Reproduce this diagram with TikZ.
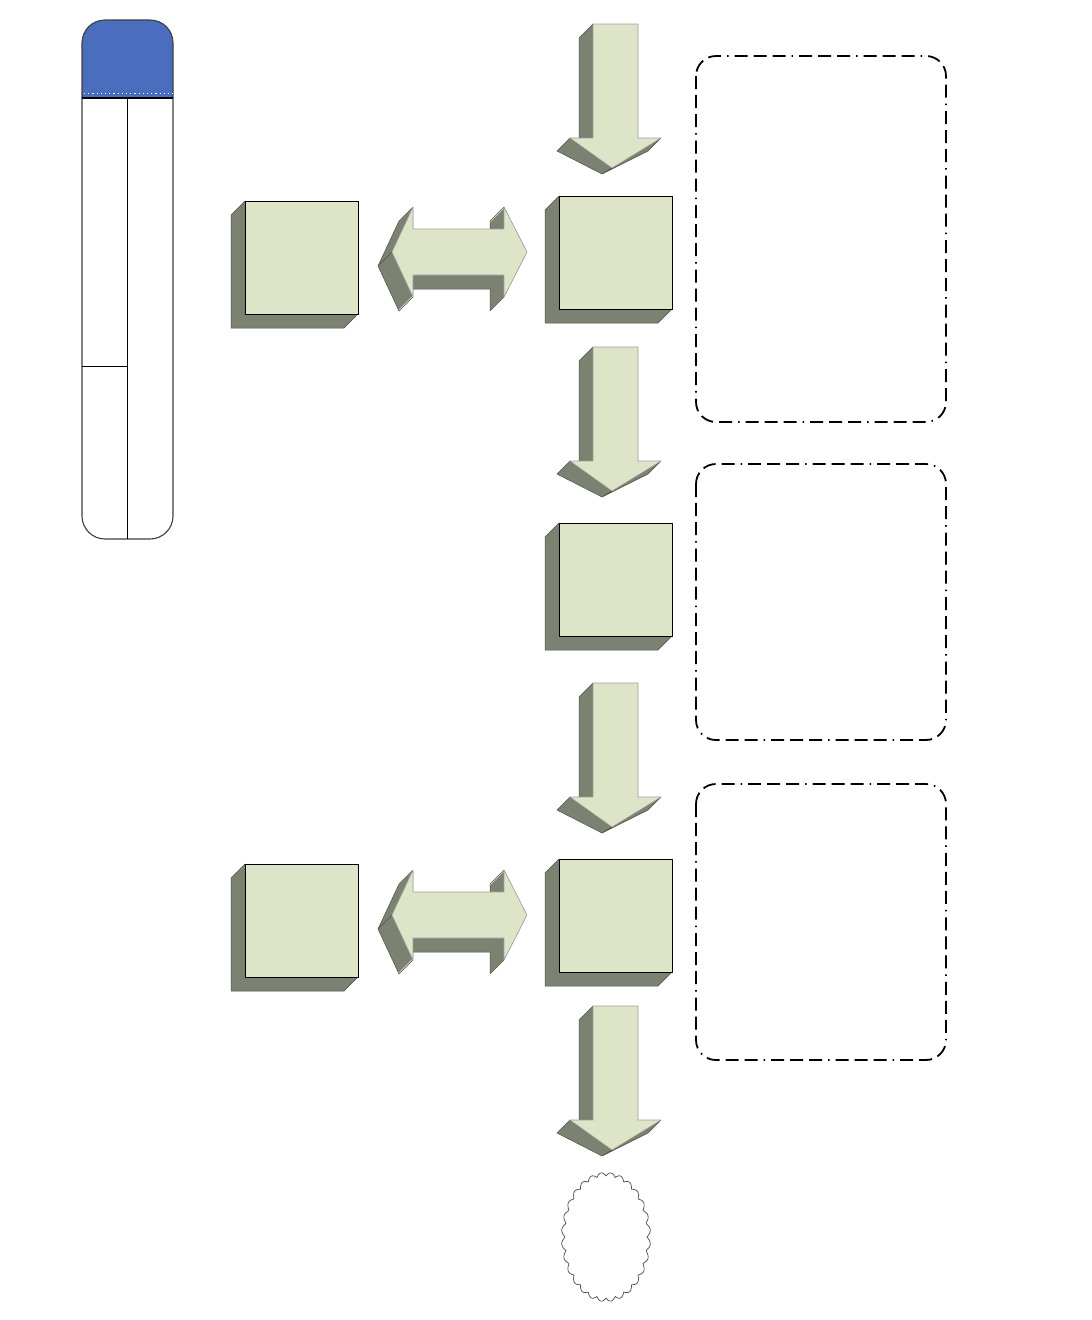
\documentclass[tikz,border=0pt]{standalone}
\definecolor{lite}{HTML}{DDE4C8}
\definecolor{dark}{HTML}{7C8272}
\definecolor{edge}{HTML}{4F5347}
\definecolor{panelblue}{HTML}{4A6DBE}
\tikzset{
  front/.style={fill=lite, draw=black, line width=0.9pt},
  arrowfront/.style={fill=lite, draw=gray!75, line width=0.6pt, line join=round},
  side/.style={fill=dark, draw=edge, line width=0.5pt, line join=round},
  dashbox/.style={draw=black, line width=1.8pt, rounded corners=20pt,
    dash pattern=on 13pt off 6pt on 13pt off 6pt on 13pt off 6pt on 1.5pt off 6pt},
  panelline/.style={draw=black!75, line width=1.1pt},
}
\newcommand\mycube[3]{%
  \filldraw[side] (#1,#2) -- ++(-14,14) -- ++(0,#3) -- ++(#3,0) -- (#1+#3,#2+#3) -- (#1,#2+#3) -- cycle;
  \draw[front] (#1,#2) rectangle ++(#3,#3);
}
\newcommand\dnarrow[1]{%
  \filldraw[side] (593,#1) -- (579,#1+14) -- (579,#1+114) -- (593,#1+114) -- cycle;
  \filldraw[side] (570,#1+114) -- (557,#1+127) -- (602,#1+150) -- (612,#1+144) -- cycle;
  \filldraw[side] (612,#1+144) -- (602,#1+150) -- (648,#1+127) -- (661,#1+114) -- cycle;
  \filldraw[arrowfront] (593,#1) -- (638,#1) -- (638,#1+114) -- (661,#1+114) -- (612,#1+144) -- (570,#1+114) -- (593,#1+114) -- cycle;
}
\newcommand\dblarr[1]{%
  \begin{scope}[shift={(0,#1)}]
    \foreach \t in {0,1,...,14}
      \fill[dark, shift={(-\t,\t)}] (392,252) -- (413,207) -- (413,229) -- (504,229) -- (504,207) -- (527,252) -- (504,297) -- (504,275) -- (413,275) -- (413,297) -- cycle;
    \draw[edge, line width=0.5pt, line join=round] (413,207) -- (399,221) -- (378,266) -- (399,311) -- (413,297);
    \draw[edge, line width=0.5pt, line join=round] (504,207) -- (490,221) -- (490,229);
    \draw[edge, line width=0.5pt, line join=round] (413,275) -- (413,289) -- (490,289) -- (490,311) -- (504,297);
    \draw[edge, line width=0.5pt] (392,252) -- (378,266);
    \filldraw[arrowfront] (392,252) -- (413,207) -- (413,229) -- (504,229) -- (504,207) -- (527,252) -- (504,297) -- (504,275) -- (413,275) -- (413,297) -- cycle;
  \end{scope}
}
\begin{document}
\begin{tikzpicture}[x=1pt,y=-1pt]
\useasboundingbox (0,0) rectangle (1092,1320);
\fill[white] (0,0) rectangle (1092,1320);

% left panel
\begin{scope}
  \clip (70,0) rectangle (190,98);
  \fill[panelblue, rounded corners=22pt] (82,20) rectangle (173,200);
\end{scope}
\draw[panelline, rounded corners=23pt] (82,20) rectangle (173,539);
\draw[white, line width=0.9pt, dash pattern=on 1.2pt off 3pt] (84,93) -- (173,93);
\draw[black, line width=1.4pt] (82,98) -- (173,98);
\draw[black, line width=1pt] (127.5,98) -- (127.5,539);
\draw[black, line width=1pt] (82,366) -- (127.5,366);

% down arrows
\dnarrow{24}
\dnarrow{347}
\dnarrow{683}
\dnarrow{1006}

% cubes
\mycube{559}{196}{113}
\mycube{559}{523}{113}
\mycube{559}{859}{113}
\mycube{245}{201}{113}
\mycube{245}{864}{113}

% double arrows
\dblarr{0}
\dblarr{663}

% dashed boxes
\draw[dashbox] (696,56) rectangle (946,422);
\draw[dashbox] (696,464) rectangle (946,740);
\draw[dashbox] (696,784) rectangle (946,1060);

% cloud
\draw[gray!60!black, line width=0.7pt] plot[domain=0:360, samples=600]
  ({606+(41+3.5*abs(sin(14*\x)))*cos(\x)}, {1237+(61+3.5*abs(sin(14*\x)))*sin(\x)}) -- cycle;
\end{tikzpicture}
\end{document}
